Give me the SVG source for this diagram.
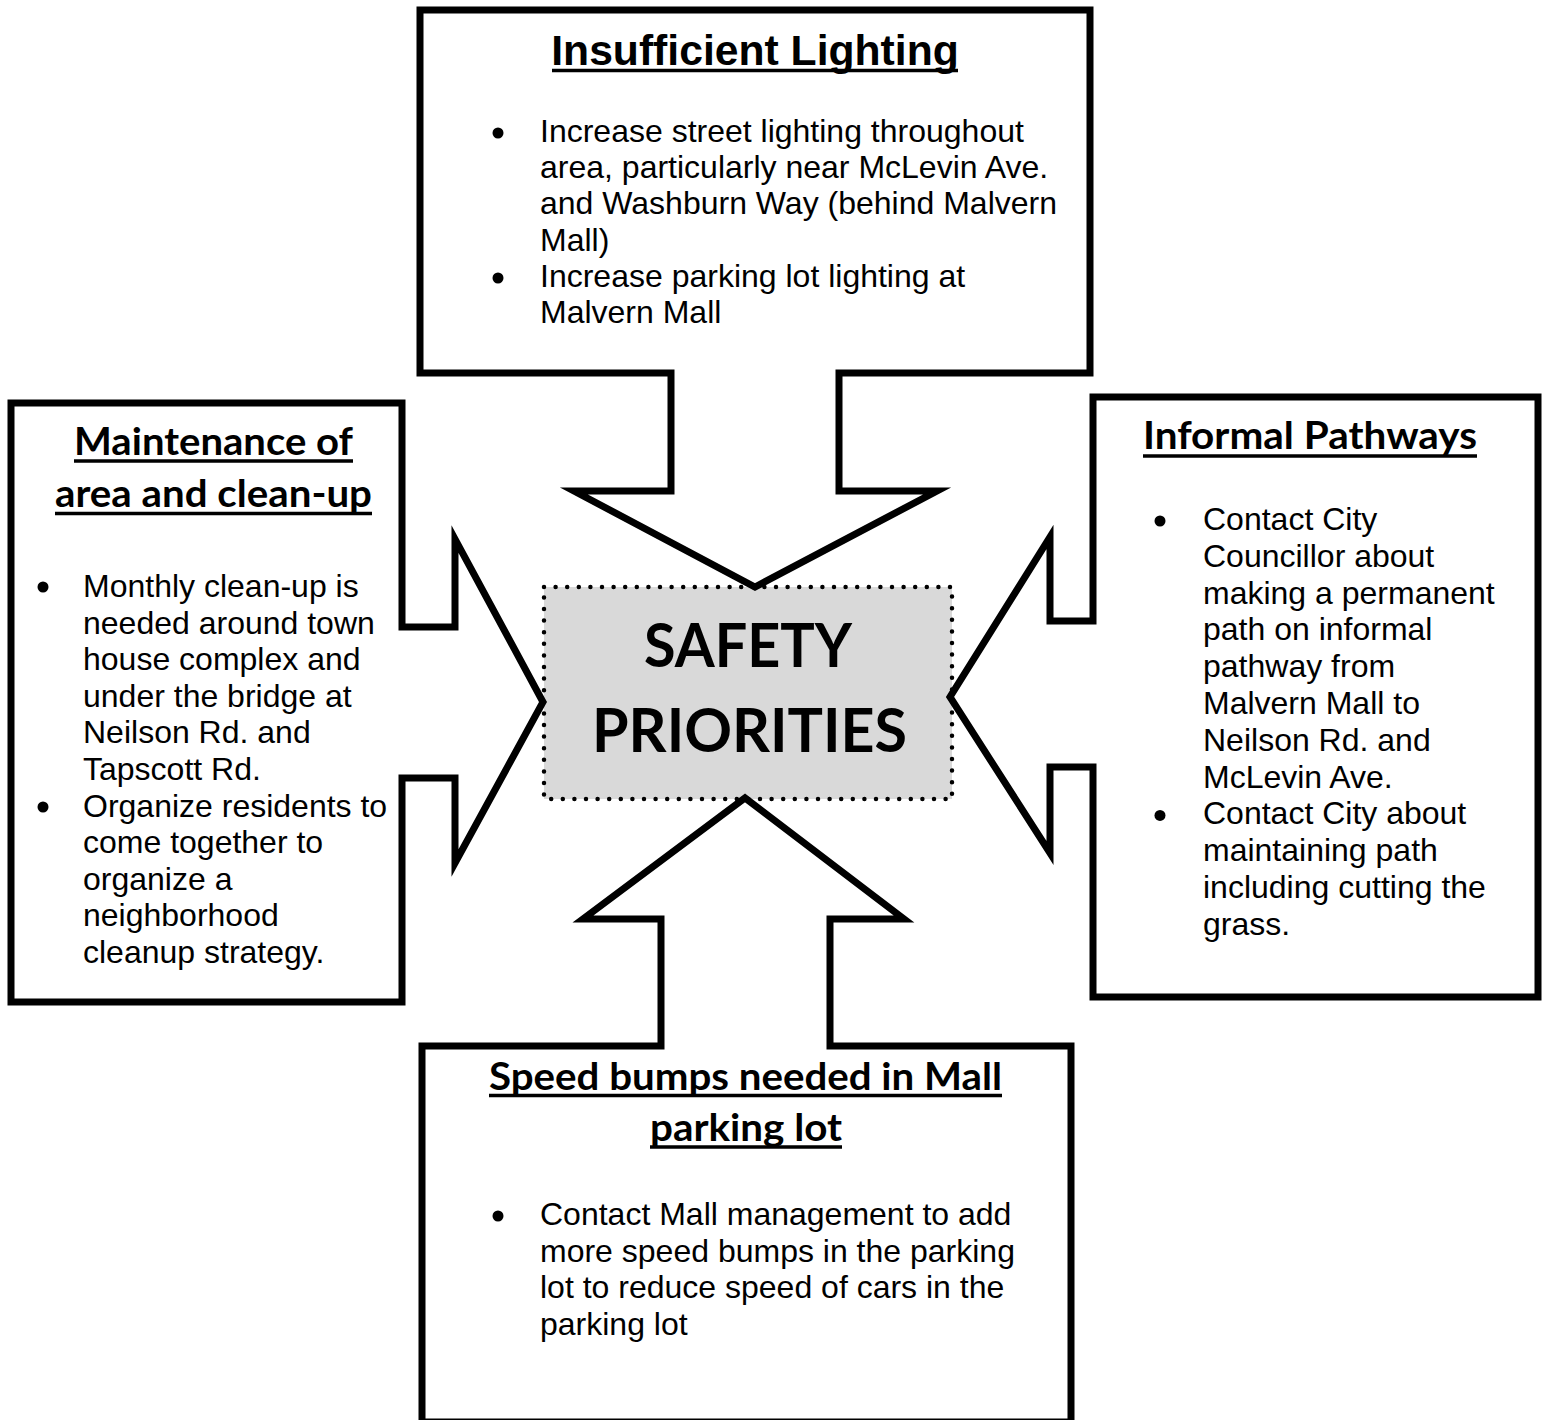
<svg xmlns="http://www.w3.org/2000/svg" width="1546" height="1420" viewBox="0 0 1546 1420">
  <style>
    .callout { fill: #ffffff; stroke: #000000; stroke-width: 7; stroke-miterlimit: 10; }
    .hub { fill: #d9d9d9; stroke: #000000; stroke-width: 4.5; stroke-dasharray: 0 11.6; stroke-linecap: round; }
    .body { font-family: "Liberation Sans", Arial, sans-serif; font-size: 32px; fill: #000000; }
    .head-a { font-family: "Liberation Sans", Arial, sans-serif; font-size: 42.67px; font-weight: bold; fill: #000000; }
    .head-c { font-family: Lato, "Open Sans", sans-serif; font-size: 38px; font-weight: bold; fill: #000000; }
    .hub-text { font-family: Lato, "Open Sans", sans-serif; font-size: 62px; font-weight: bold; fill: #000000; }
    .ul { stroke: #000000; stroke-width: 3.5; }
    .dot { fill: #000000; }
  </style>

  <!-- central hub -->
  <g id="node-safety-priorities">
    <rect class="hub" x="544" y="587" width="408" height="212"/>
    <text class="hub-text" x="644" y="667" textLength="208" lengthAdjust="spacingAndGlyphs">SAFETY</text>
    <text class="hub-text" x="592" y="752" textLength="315" lengthAdjust="spacingAndGlyphs">PRIORITIES</text>
  </g>

  <!-- top callout: arrow pointing down at the hub -->
  <g id="node-insufficient-lighting">
    <path class="callout" d="M420,10 H1090 V373 H839 V491 H937 L755,587 L574,491 H671 V373 H420 Z"/>
    <text class="head-a" x="755" y="65" text-anchor="middle">Insufficient Lighting</text>
    <line class="ul" x1="552" y1="70.5" x2="958" y2="70.5"/>
    <circle class="dot" cx="498" cy="133" r="5.5"/>
    <text class="body" x="540" y="142">Increase street lighting throughout</text>
    <text class="body" x="540" y="178.2">area, particularly near McLevin Ave.</text>
    <text class="body" x="540" y="214.4">and Washburn Way (behind Malvern</text>
    <text class="body" x="540" y="250.6">Mall)</text>
    <circle class="dot" cx="498" cy="278" r="5.5"/>
    <text class="body" x="540" y="287">Increase parking lot lighting at</text>
    <text class="body" x="540" y="323">Malvern Mall</text>
  </g>

  <!-- left callout: arrow pointing right at the hub -->
  <g id="node-maintenance">
    <path class="callout" d="M11,403 H402 V627 H455 V539 L543,702 L455,863 V778 H402 V1002 H11 Z"/>
    <text class="head-c" x="74" y="455" textLength="279" lengthAdjust="spacingAndGlyphs">Maintenance of</text>
    <line class="ul" x1="74" y1="461" x2="353" y2="461"/>
    <text class="head-c" x="55" y="507" textLength="317" lengthAdjust="spacingAndGlyphs">area and clean-up</text>
    <line class="ul" x1="55" y1="513.5" x2="372" y2="513.5"/>
    <circle class="dot" cx="43" cy="587" r="5.5"/>
    <text class="body" x="83" y="597">Monthly clean-up is</text>
    <text class="body" x="83" y="633.6">needed around town</text>
    <text class="body" x="83" y="670.2">house complex and</text>
    <text class="body" x="83" y="706.8">under the bridge at</text>
    <text class="body" x="83" y="743.4">Neilson Rd. and</text>
    <text class="body" x="83" y="780">Tapscott Rd.</text>
    <circle class="dot" cx="43" cy="807" r="5.5"/>
    <text class="body" x="83" y="816.6">Organize residents to</text>
    <text class="body" x="83" y="853.2">come together to</text>
    <text class="body" x="83" y="889.8">organize a</text>
    <text class="body" x="83" y="926.4">neighborhood</text>
    <text class="body" x="83" y="963">cleanup strategy.</text>
  </g>

  <!-- right callout: arrow pointing left at the hub -->
  <g id="node-informal-pathways">
    <path class="callout" d="M1093,397 H1538 V997 H1093 V767 H1050 V853 L950,697 L1050,537 V621 H1093 Z"/>
    <text class="head-c" x="1143" y="449" textLength="334" lengthAdjust="spacingAndGlyphs">Informal Pathways</text>
    <line class="ul" x1="1143" y1="456" x2="1477" y2="456"/>
    <circle class="dot" cx="1160" cy="521" r="5.5"/>
    <text class="body" x="1203" y="530">Contact City</text>
    <text class="body" x="1203" y="566.8">Councillor about</text>
    <text class="body" x="1203" y="603.6">making a permanent</text>
    <text class="body" x="1203" y="640.4">path on informal</text>
    <text class="body" x="1203" y="677.2">pathway from</text>
    <text class="body" x="1203" y="714">Malvern Mall to</text>
    <text class="body" x="1203" y="750.8">Neilson Rd. and</text>
    <text class="body" x="1203" y="787.6">McLevin Ave.</text>
    <circle class="dot" cx="1160" cy="815.4" r="5.5"/>
    <text class="body" x="1203" y="824.4">Contact City about</text>
    <text class="body" x="1203" y="861.2">maintaining path</text>
    <text class="body" x="1203" y="898">including cutting the</text>
    <text class="body" x="1203" y="934.8">grass.</text>
  </g>

  <!-- bottom callout: arrow pointing up at the hub -->
  <g id="node-speed-bumps">
    <path class="callout" d="M422,1046 H661 V919 H583 L745,798 L904,919 H830 V1046 H1071 V1422 H422 Z"/>
    <text class="head-c" x="489" y="1090" textLength="513" lengthAdjust="spacingAndGlyphs">Speed bumps needed in Mall</text>
    <line class="ul" x1="489" y1="1095.5" x2="1002" y2="1095.5"/>
    <text class="head-c" x="650" y="1141" textLength="192" lengthAdjust="spacingAndGlyphs">parking lot</text>
    <line class="ul" x1="650" y1="1147" x2="842" y2="1147"/>
    <circle class="dot" cx="498" cy="1216" r="5.5"/>
    <text class="body" x="540" y="1225">Contact Mall management to add</text>
    <text class="body" x="540" y="1261.6">more speed bumps in the parking</text>
    <text class="body" x="540" y="1298.2">lot to reduce speed of cars in the</text>
    <text class="body" x="540" y="1334.8">parking lot</text>
  </g>

  <!-- the arrows are part of each callout outline; no separate connector lines -->
  <g id="connectors"></g>
</svg>
